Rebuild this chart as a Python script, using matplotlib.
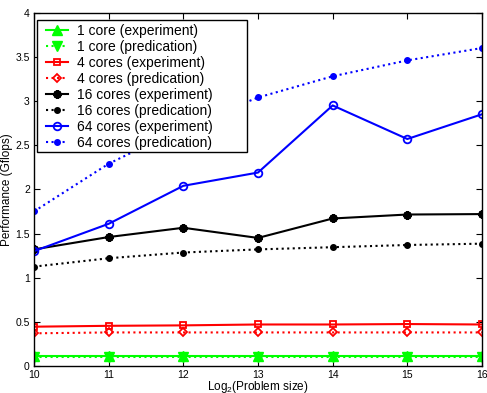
import matplotlib
matplotlib.use("Agg")
import matplotlib.pyplot as plt
from matplotlib.patches import Rectangle

plt.rcParams['font.family'] = ['Liberation Sans', 'DejaVu Sans']
plt.rcParams['mathtext.fontset'] = 'custom'
plt.rcParams['mathtext.rm'] = 'Liberation Sans'

sizes = [10, 11, 12, 13, 14, 15, 16]
core1_exp = [0.11, 0.11, 0.11, 0.11, 0.11, 0.11, 0.11]
core1_pred = [0.105, 0.105, 0.105, 0.105, 0.105, 0.105, 0.105]
core4_exp = [0.445, 0.455, 0.46, 0.47, 0.47, 0.475, 0.47]
core4_pred = [0.37, 0.38, 0.38, 0.38, 0.38, 0.38, 0.38]
core16_exp = [1.32, 1.46, 1.565, 1.45, 1.67, 1.715, 1.72]
core16_pred = [1.125, 1.22, 1.285, 1.32, 1.345, 1.37, 1.385]
core64_exp = [1.30, 1.61, 2.04, 2.19, 2.95, 2.57, 2.85]
core64_pred = [1.75, 2.29, 2.70, 3.04, 3.28, 3.46, 3.60]

fig = plt.figure(figsize=(4.87, 3.93), dpi=100)
ax = fig.add_axes([0.0698, 0.0687, 0.9199, 0.899])

lw = 1.5
ax.plot(sizes, core1_exp, '-', color=(0, 1, 0), marker='^', mfc=(0, 1, 0), ms=6.5, lw=lw, label='1 core (experiment)')
ax.plot(sizes, core1_pred, ':', color=(0, 1, 0), marker='v', mfc=(0, 1, 0), ms=6.5, lw=lw, label='1 core (predication)')
ax.plot(sizes, core4_exp, '-', color='red', marker='s', mfc='none', ms=4.5, mew=1.3, lw=lw, label='4 cores (experiment)')
ax.plot(sizes, core4_pred, ':', color='red', marker='D', mfc='none', ms=4.5, mew=1.3, lw=lw, label='4 cores (predication)')
ax.plot(sizes, core16_exp, '-', color='black', marker=(8, 2, 0), ms=6, mew=1.8, lw=lw, label='16 cores (experiment)')
ax.plot(sizes, core16_pred, ':', color='black', marker='.', ms=8, lw=lw, label='16 cores (predication)')
ax.plot(sizes, core64_exp, '-', color='blue', marker='o', mfc='none', ms=5.5, mew=1.3, lw=lw, label='64 cores (experiment)')
ax.plot(sizes, core64_pred, ':', color='blue', marker='.', ms=8, lw=lw, label='64 cores (predication)')

ax.set_xlim(10, 16)
ax.set_ylim(0, 4)
ax.set_xticks(sizes)
ax.set_yticks([0, 0.5, 1, 1.5, 2, 2.5, 3, 3.5, 4])
ax.set_yticklabels(['0', '0.5', '1', '1.5', '2', '2.5', '3', '3.5', '4'])
ax.tick_params(direction='in', top=True, right=True, labelsize=7.5, length=4, pad=3)
ax.set_xlabel('Log$_2$(Problem size)', fontsize=8.5, labelpad=-1)
ax.set_ylabel('Performance (Gflops)', fontsize=8.5, labelpad=2)
for s in ax.spines.values():
    s.set_linewidth(1.0)

# legend box (MATLAB-style, wide frame)
box = Rectangle((37 / 487, 1 - 152 / 393), 210 / 487, 132 / 393, transform=fig.transFigure,
                facecolor='white', edgecolor='black', lw=1.0, zorder=3)
fig.patches.append(box)

handles, labels = ax.get_legend_handles_labels()
leg = fig.legend(handles, labels, loc='upper left', bbox_to_anchor=(46 / 487, 1 - 23.5 / 393),
                 fontsize=10, frameon=False, handlelength=1.6, handletextpad=0.65,
                 borderpad=0, labelspacing=0.15, borderaxespad=0)
leg.set_zorder(4)

fig.savefig('out.png', dpi=100)
